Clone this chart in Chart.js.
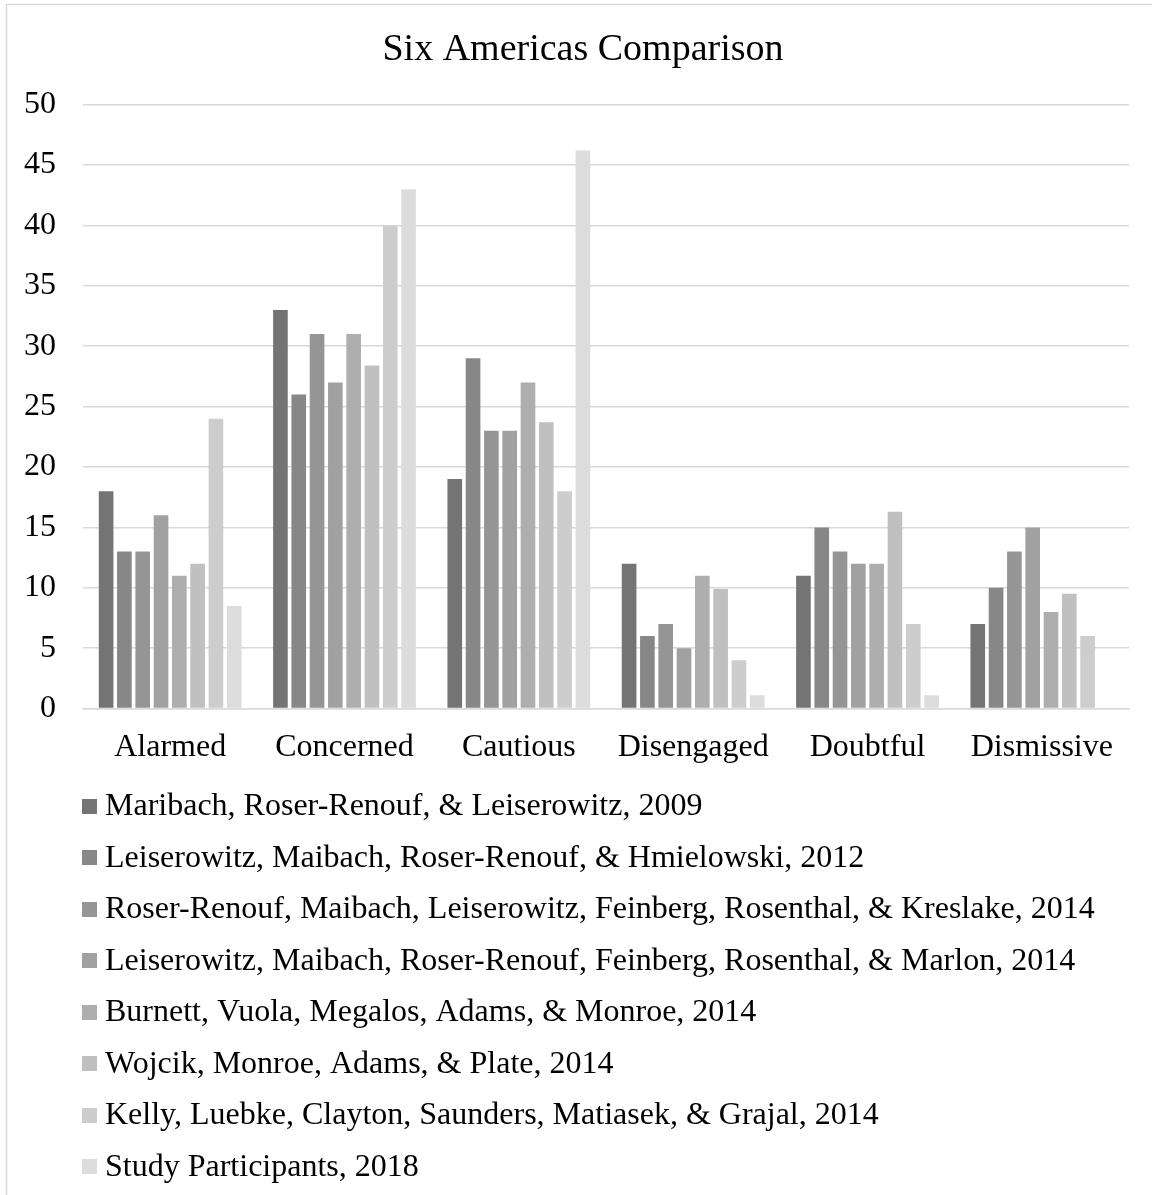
<!DOCTYPE html>
<html>
<head>
<meta charset="utf-8">
<title>Six Americas Comparison</title>
<script src="https://cdn.jsdelivr.net/npm/chart.js@4"></script>
<style>
  html, body { margin: 0; padding: 0; background: #ffffff; }
  #wrap { width: 1152px; height: 1195px; }
</style>
</head>
<body>
<div id="wrap"><canvas id="chart" width="1152" height="1195"></canvas></div>
<script>
// Segment categories
const categories = ['Alarmed', 'Concerned', 'Cautious', 'Disengaged', 'Doubtful', 'Dismissive'];

// Study names (one series each)
const seriesNames = [
  'Maribach, Roser-Renouf, & Leiserowitz, 2009',
  'Leiserowitz, Maibach, Roser-Renouf, & Hmielowski, 2012',
  'Roser-Renouf, Maibach, Leiserowitz, Feinberg, Rosenthal, & Kreslake, 2014',
  'Leiserowitz, Maibach, Roser-Renouf, Feinberg, Rosenthal, & Marlon, 2014',
  'Burnett, Vuola, Megalos, Adams, & Monroe, 2014',
  'Wojcik, Monroe, Adams, & Plate, 2014',
  'Kelly, Luebke, Clayton, Saunders, Matiasek, & Grajal, 2014',
  'Study Participants, 2018'
];

// Percentages per study, in category order
const maibach2009      = [18, 33, 19, 12, 11, 7];
const leiserowitz2012  = [13, 26, 29, 6, 15, 10];
const roserRenouf2014  = [13, 31, 23, 7, 13, 13];
const leiserowitz2014  = [16, 27, 23, 5, 12, 15];
const burnett2014      = [11, 31, 27, 11, 12, 8];
const wojcik2014       = [12, 28.4, 23.7, 9.9, 16.3, 9.5];
const kelly2014        = [24, 40, 18, 4, 7, 6];
const participants2018 = [8.5, 43, 46.2, 1.1, 1.1, null];

const seriesValues = [maibach2009, leiserowitz2012, roserRenouf2014, leiserowitz2014,
                      burnett2014, wojcik2014, kelly2014, participants2018];

// Y axis range
const yMin = 0;
const yMax = 50;
const yStep = 5;

const seriesColors = ['#747474', '#878787', '#959595', '#a1a1a1',
                      '#aeaeae', '#c0c0c0', '#cdcdcd', '#dcdcdc'];

const FONT = '"Liberation Serif", "Times New Roman", Times, serif';

// Outer frame of the chart
const framePlugin = {
  id: 'frame',
  beforeDraw(chart) {
    const ctx = chart.ctx;
    ctx.save();
    ctx.fillStyle = '#ffffff';
    ctx.fillRect(0, 0, chart.width, chart.height);
    ctx.strokeStyle = '#d9d9d9';
    ctx.lineWidth = 1.5;
    ctx.strokeRect(6.5, 4.5, chart.width + 20, chart.height + 20);
    ctx.restore();
  }
};

// Let the value labels extend left of the narrow y axis box without clipping
const axisLabelRoomPlugin = {
  id: 'axisLabelRoom',
  afterLayout(chart) {
    chart.scales.y.left = 0;
  }
};

// One legend entry per line beneath the category labels
const stackedLegendPlugin = {
  id: 'stackedLegend',
  afterDraw(chart, args, opts) {
    const ctx = chart.ctx;
    const xScale = chart.scales.x;
    const box = opts.boxSize;
    const left = opts.left;
    let y = xScale.bottom + opts.firstOffset;
    ctx.save();
    ctx.font = opts.fontSize + 'px ' + FONT;
    ctx.textBaseline = 'middle';
    ctx.textAlign = 'left';
    chart.data.datasets.forEach((ds) => {
      ctx.fillStyle = ds.backgroundColor;
      ctx.fillRect(left, Math.round(y - box / 2), box, box);
      ctx.fillStyle = '#000000';
      ctx.fillText(ds.label, left + box + opts.gap, y + 1);
      y += opts.rowHeight;
    });
    ctx.restore();
  }
};

const datasets = seriesNames.map((name, i) => ({
  label: name,
  data: seriesValues[i],
  backgroundColor: seriesColors[i],
  borderWidth: 0,
  categoryPercentage: 0.84,
  barPercentage: 0.8
}));

new Chart(document.getElementById('chart'), {
  type: 'bar',
  data: { labels: categories, datasets: datasets },
  plugins: [framePlugin, axisLabelRoomPlugin, stackedLegendPlugin],
  options: {
    responsive: false,
    animation: false,
    layout: { padding: { top: 4, left: 37, right: 23, bottom: 408 } },
    plugins: {
      legend: { display: false },
      tooltip: { enabled: false },
      title: {
        display: true,
        text: 'Six Americas Comparison',
        color: '#000000',
        font: { family: FONT, size: 38, weight: 'normal', lineHeight: 1.2 },
        padding: { top: 23, bottom: 32 }
      },
      stackedLegend: {
        boxSize: 15,
        left: 82,
        gap: 8,
        fontSize: 32,
        rowHeight: 51.5,
        firstOffset: 19
      }
    },
    scales: {
      x: {
        grid: { display: false, drawTicks: false },
        border: { display: true, color: '#d9d9d9', width: 1.5 },
        ticks: {
          color: '#000000',
          padding: 20,
          font: { family: FONT, size: 32, lineHeight: 1.2 }
        }
      },
      y: {
        min: yMin,
        max: yMax,
        grid: { color: '#d9d9d9', lineWidth: 1.5, drawTicks: false },
        border: { display: false },
        ticks: {
          stepSize: yStep,
          color: '#000000',
          padding: 27,
          font: { family: FONT, size: 32, lineHeight: 1.2 }
        },
        afterFit(scale) {
          scale.width = 46;
        }
      }
    }
  }
});
</script>
</body>
</html>
